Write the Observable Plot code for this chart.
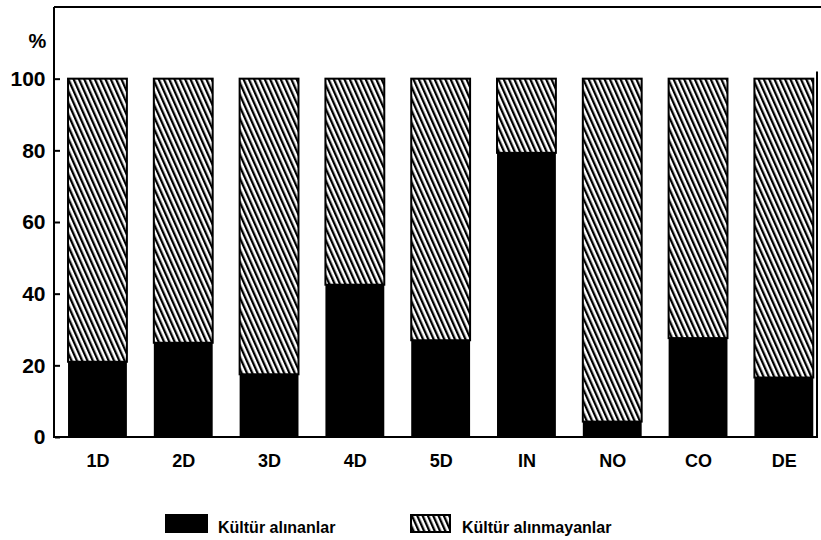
<!DOCTYPE html>
<html><head><meta charset="utf-8">
<script src="https://cdn.jsdelivr.net/npm/d3@7"></script>
<script src="https://cdn.jsdelivr.net/npm/@observablehq/plot@0.6"></script>
<style>
body{margin:0;background:#fff;}
#wrap{position:relative;width:821px;height:540px;background:#fff;}
#legend{position:relative;height:40px;font-family:"Liberation Sans",Arial,sans-serif;color:#000;}
.sw{position:absolute;top:14px;height:19px;box-sizing:border-box;}
.lt{position:absolute;top:19px;font-size:16px;line-height:17px;font-weight:bold;white-space:nowrap;}
</style></head><body>
<div id="wrap"><div id="chart"></div><div id="legend"></div></div>
<script>
const categories = ["1D","2D","3D","4D","5D","IN","NO","CO","DE"];
const accepted = [21, 26.3, 17.5, 42.5, 27, 79.3, 4.3, 27.6, 16.6];
const totalPct = 100;
const yTicks = [0, 20, 40, 60, 80, 100];
const yMax = 120;
const rightRuleTop = 102;
const seriesNames = ["Kültür alınanlar", "Kültür alınmayanlar"];

const data = categories.map((c, i) => ({cat: c, accepted: accepted[i], total: totalPct}));

function defsMark() {
  const defs = d3.create("svg:defs");
  const p = defs.append("pattern").attr("id", "hatch").attr("patternUnits", "userSpaceOnUse")
    .attr("width", 4.85).attr("height", 10).attr("patternTransform", "rotate(-24)");
  p.append("rect").attr("width", 4.85).attr("height", 10).attr("fill", "white");
  p.append("rect").attr("width", 2.3).attr("height", 10).attr("fill", "black");
  return defs.node();
}

function frameMark(index, scales, values, dimensions) {
  const {width, marginLeft, marginRight, marginTop} = dimensions;
  const y0 = scales.y(0);
  const g = d3.create("svg:g").attr("stroke", "black").attr("stroke-width", 2).attr("fill", "none");
  g.append("line").attr("x1", marginLeft).attr("x2", marginLeft).attr("y1", marginTop).attr("y2", y0 + 1);
  g.append("line").attr("x1", marginLeft).attr("x2", width).attr("y1", marginTop).attr("y2", marginTop);
  g.append("line").attr("x1", marginLeft).attr("x2", width - marginRight + 1).attr("y1", y0).attr("y2", y0);
  g.append("line").attr("x1", width - marginRight).attr("x2", width - marginRight).attr("y1", scales.y(rightRuleTop)).attr("y2", y0);
  return g.node();
}

const plot = Plot.plot({
  width: 821, height: 500,
  marginLeft: 54, marginRight: 4, marginTop: 7, marginBottom: 63,
  x: {domain: categories, paddingInner: 0.314, paddingOuter: 0.1035, align: 0.79, round: false, label: null},
  y: {domain: [0, yMax], label: null},
  style: {fontFamily: "'Liberation Sans', Arial, sans-serif", color: "black", background: "white", overflow: "visible"},
  marks: [
    defsMark,
    Plot.barY(data, {x: "cat", y1: "accepted", y2: "total", fill: "url(#hatch)", stroke: "black", strokeWidth: 2}),
    Plot.barY(data, {x: "cat", y1: 0, y2: "accepted", fill: "black"}),
    Plot.axisY(yTicks, {tickSize: 5, dx: 6, strokeWidth: 2, tickFormat: () => "", label: null}),
    Plot.axisY(yTicks, {tickSize: 0, tickPadding: 9, fontSize: 21, fontWeight: "bold", label: null}),
    Plot.axisX({tickSize: 0, fontSize: 18, fontWeight: "bold", tickPadding: 17, label: null}),
    frameMark,
    Plot.text(["%"], {frameAnchor: "top-left", dx: -26, dy: 26, fontSize: 20, fontWeight: "bold", text: d => d})
  ]
});
document.getElementById("chart").appendChild(plot);

const legend = d3.select("#legend");
legend.append("div").attr("class", "sw").style("left", "165px").style("width", "43px").style("background", "black");
legend.append("div").attr("class", "lt").style("left", "218px").text(seriesNames[0]);
const hs = legend.append("svg").attr("class", "sw").style("left", "410px").attr("width", 41).attr("height", 19);
hs.append("rect").attr("x", 1).attr("y", 1).attr("width", 39).attr("height", 17).attr("fill", "url(#hatch)").attr("stroke", "black").attr("stroke-width", 2);
legend.append("div").attr("class", "lt").style("left", "462px").text(seriesNames[1]);
</script>
</body></html>
